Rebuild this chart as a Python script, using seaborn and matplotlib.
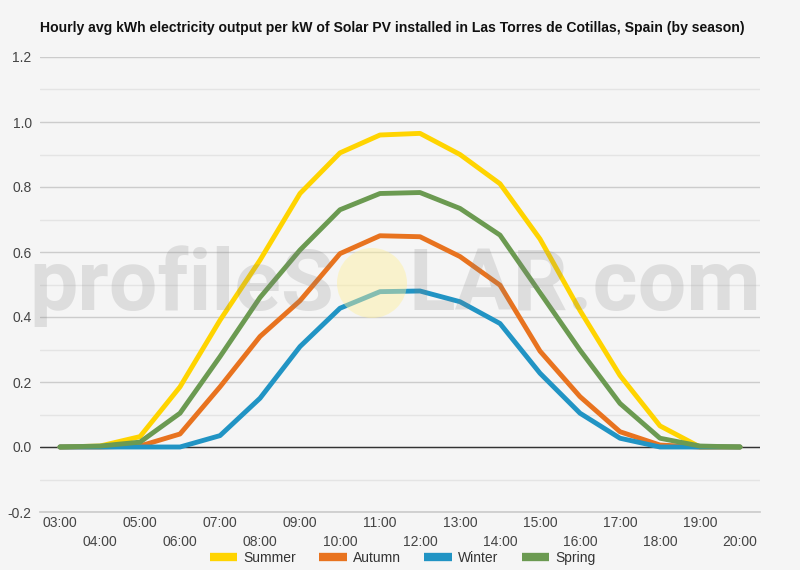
import pandas as pd
import matplotlib.pyplot as plt
import matplotlib.patches as mpatches
import seaborn as sns

# hourly values
hours = list(range(3, 21))
hour_labels = ['%02d:00' % h for h in hours]
seasons = ['Summer', 'Autumn', 'Winter', 'Spring']
summer = [0, 0.003, 0.032, 0.185, 0.39, 0.575, 0.78, 0.905, 0.96, 0.965, 0.9, 0.81, 0.64, 0.42, 0.22, 0.065, 0.0, 0]
autumn = [0, 0, 0.003, 0.04, 0.185, 0.34, 0.45, 0.595, 0.65, 0.647, 0.586, 0.498, 0.295, 0.155, 0.047, 0.006, 0, 0]
winter = [0, 0, 0, 0, 0.035, 0.15, 0.309, 0.427, 0.478, 0.48, 0.447, 0.38, 0.227, 0.104, 0.027, 0, 0, 0]
spring = [0, 0.003, 0.015, 0.104, 0.278, 0.46, 0.606, 0.73, 0.78, 0.783, 0.734, 0.652, 0.475, 0.298, 0.134, 0.027, 0.003, 0]
colors = ['#ffd400', '#e8731f', '#2194c4', '#6b9a51']

bg = '#f5f5f5'
sns.set_theme(style='white')
plt.rcParams['font.family'] = ['Liberation Sans', 'DejaVu Sans']

df = pd.DataFrame({
    'hour': hours * 4,
    'kwh': summer + autumn + winter + spring,
    'season': sum([[s] * len(hours) for s in seasons], []),
})

fig = plt.figure(figsize=(8, 5.7), dpi=100, facecolor=bg)
ax = fig.add_axes([0.05, 1 - 512 / 570, 0.90, (512 - 57) / 570])
ax.set_facecolor(bg)

sns.lineplot(data=df, x='hour', y='kwh', hue='season', hue_order=seasons,
             palette=colors, linewidth=3.5, ax=ax, zorder=3,
             solid_joinstyle='round', solid_capstyle='round')

ax.set_xlim(2.5, 20.5)
ax.set_ylim(-0.2, 1.2)

# grid: dark lines every 0.2, light ones in between
yticks = [-0.2, 0, 0.2, 0.4, 0.6, 0.8, 1.0, 1.2]
ax.set_yticks(yticks)
ax.set_yticklabels(['%.1f' % v for v in yticks])
ax.set_yticks([-0.1, 0.1, 0.3, 0.5, 0.7, 0.9, 1.1], minor=True)
ax.grid(axis='y', which='major', color='#cccccc', linewidth=1)
ax.grid(axis='y', which='minor', color='#e4e4e4', linewidth=1)
ax.axhline(0, color='#333333', linewidth=1, zorder=2)

# staggered hour labels
ax.set_xticks(hours[::2])
ax.set_xticklabels(hour_labels[::2])
ax.set_xticks(hours[1::2], minor=True)
ax.set_xticklabels(hour_labels[1::2], minor=True)
ax.tick_params(axis='x', which='major', length=0, pad=3, labelsize=10, labelcolor='#444444')
ax.tick_params(axis='x', which='minor', length=0, pad=16.5, labelsize=10, labelcolor='#444444')
ax.tick_params(axis='y', which='both', length=0, pad=6, labelsize=10, labelcolor='#444444')

for side in ['top', 'right', 'left']:
    ax.spines[side].set_visible(False)
ax.spines['bottom'].set_color('#cccccc')
ax.set_xlabel('')
ax.set_ylabel('')

handles, labels = ax.get_legend_handles_labels()
ax.get_legend().remove()
leg = fig.legend(handles, labels, loc='center', bbox_to_anchor=(0.503, 1 - 558 / 570),
                 ncol=4, frameon=False, fontsize=10, handlelength=2.0,
                 handletextpad=0.4, columnspacing=1.7, labelcolor='#333333')
for line in leg.get_lines():
    line.set_linewidth(6)
    line.set_solid_capstyle('butt')

fig.text(0.05, 1 - 28 / 570,
         'Hourly avg kWh electricity output per kW of Solar PV installed in Las Torres de Cotillas, Spain (by season)',
         fontsize=10.1, fontweight='bold', va='center', ha='left', color='#111111')

# watermark
wm = dict(family=['Roboto', 'DejaVu Sans'], fontweight='bold', fontsize=62,
          color='#808080', alpha=0.2, va='baseline', zorder=10)
fig.text(334 / 800, 1 - 310 / 570, 'profileS', ha='right', **wm)
fig.text(408 / 800, 1 - 310 / 570, 'LAR.com', ha='left', **wm)
sun = mpatches.Ellipse((372 / 800, 1 - 283 / 570), 70 / 800, 70 / 570, transform=fig.transFigure,
                       facecolor='#fff09a', edgecolor='none', alpha=0.45, zorder=10)
fig.patches.append(sun)

fig.savefig('out.png', dpi=100, facecolor=bg)
